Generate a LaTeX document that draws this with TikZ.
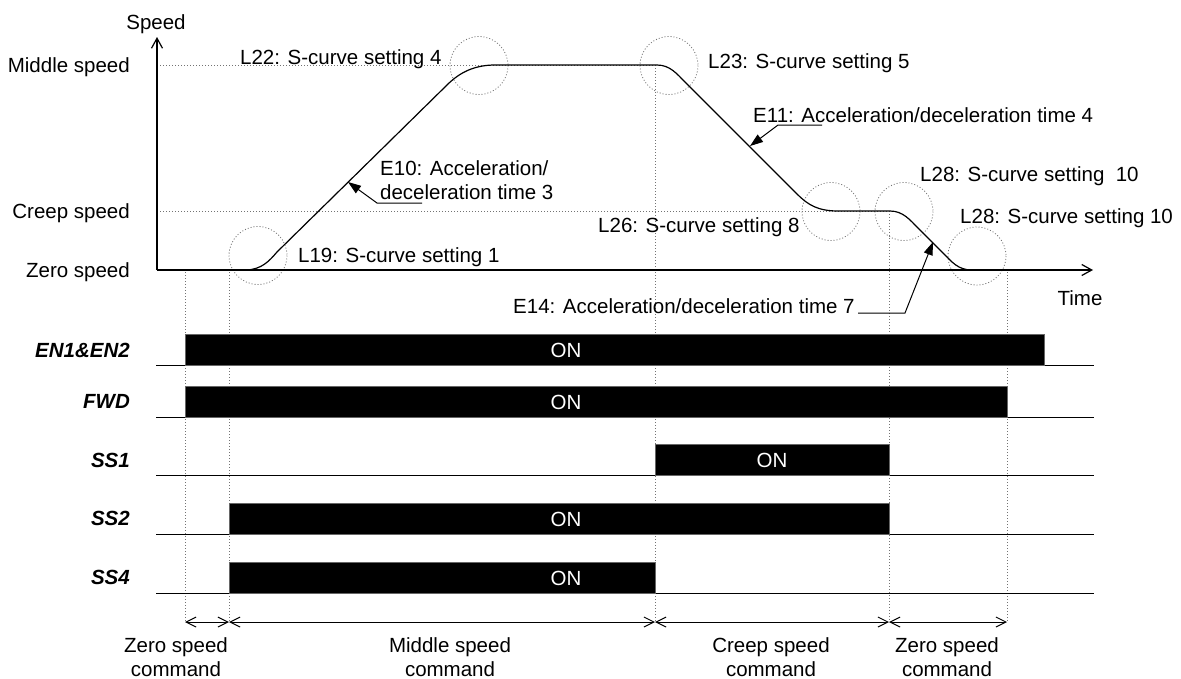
\documentclass[tikz,border=0pt]{standalone}
\usepackage{fontspec}
\setmainfont{Liberation Sans}
\usetikzlibrary{arrows.meta}
\begin{document}
\begin{tikzpicture}[x=1pt,y=-1pt,
  every node/.style={inner sep=0pt, font=\fontsize{20.5}{24}\selectfont},
  lbl/.style={anchor=base east},
  ann/.style={anchor=base west},
  sig/.style={anchor=base east, font=\fontsize{20.5}{24}\selectfont\bfseries\itshape},
  guide/.style={draw=black!55, line width=0.8pt, dash pattern=on 1pt off 2pt},
  ring/.style={draw=black!55, line width=0.8pt, dash pattern=on 1pt off 2pt},
  bar/.style={fill=black, draw=black!60, line width=0.6pt},
  baseln/.style={line width=1pt},
  leader/.style={line width=1pt, -{Triangle[length=13pt,width=9pt]}},
  axis/.style={line width=1.2pt, -{Straight Barb[length=10pt,width=11pt]}},
  dim/.style={line width=1pt, {Straight Barb[length=10pt,width=10pt]}-{Straight Barb[length=10pt,width=10pt]}},
  ontext/.style={text=white, anchor=center}
]
\useasboundingbox (0,0) rectangle (1181,678);

% time marks
\coordinate (t0) at (185,622);
\coordinate (t1) at (229,622);
\coordinate (t2) at (655,622);
\coordinate (t3) at (889,622);
\coordinate (t4) at (1007,622);

% guide lines
\draw[guide] (157,65) -- (655,65);
\draw[guide] (157,211) -- (889,211);
\draw[guide] (185,272) -- (t0);
\draw[guide] (229,272) -- (t1);
\draw[guide] (655,65) -- (t2);
\draw[guide] (889,211) -- (t3);
\draw[guide] (1007,272) -- (t4);

% rings
\draw[ring] (258,255.5) circle (29);
\draw[ring] (479,65.5) circle (29);
\draw[ring] (669,65.5) circle (29);
\draw[ring] (831,211.5) circle (29);
\draw[ring] (904,211.5) circle (29);
\draw[ring] (977,256) circle (29);

% axes
\coordinate (o) at (157,270);
\coordinate (ytip) at (157,37);
\coordinate (xtip) at (1093,270);
\draw[axis] (o) -- (ytip);
\draw[axis] (o) -- (xtip);
\node[anchor=base] (speed) at (156,29) {Speed};
\node[anchor=base] (time) at (1080,305) {Time};
\node[lbl] (mid) at (130,72.5) {Middle speed};
\node[lbl] (creep) at (130,218.5) {Creep speed};
\node[lbl] (zero) at (130,277.5) {Zero speed};

% speed profile
\draw[line width=1.2pt] (157,270) -- (245,270) .. controls (262,270) and (270,260) .. (277,252)
  -- (447,85) .. controls (460,72) and (475,65) .. (495,65)
  -- (657,65) .. controls (670,65) and (677,74) .. (685,82)
  -- (797,194) .. controls (808,205) and (818,211) .. (838,211)
  -- (890,211) .. controls (903,211) and (910,220) .. (918,228)
  -- (943,253) .. controls (952,262) and (958,270) .. (972,270);

% annotations
\node[ann] (l22) at (240,64) {L22: S-curve setting 4};
\node[ann] (l23) at (708,68) {L23: S-curve setting 5};
\node[ann] (e11) at (753,122) {E11: Acceleration/deceleration time 4};
\node[ann] (e10) at (380,175) {\begin{tabular}[t]{@{}l@{}}E10: Acceleration/\\deceleration time 3\end{tabular}};
\node[ann] (l19) at (298,262) {L19: S-curve setting 1};
\node[ann] (l26) at (598,232) {L26: S-curve setting 8};
\node[ann] (l28a) at (920,181) {L28: S-curve setting \ 10};
\node[ann] (l28b) at (960,223) {L28: S-curve setting 10};
\node[ann] (e14) at (513,313) {E14: Acceleration/deceleration time 7};

% leaders
\coordinate (e10a) at (422,203); \coordinate (e10b) at (377,203); \coordinate (e10t) at (348,182);
\draw[leader] (e10a) -- (e10b) -- (e10t);
\coordinate (e11a) at (822,125); \coordinate (e11b) at (778,125); \coordinate (e11t) at (750,146);
\draw[leader] (e11a) -- (e11b) -- (e11t);
\coordinate (e14a) at (858,313); \coordinate (e14b) at (905,313); \coordinate (e14t) at (933,242);
\draw[leader] (e14a) -- (e14b) -- (e14t);

% signals
\node[sig] (sen) at (130,357) {EN1\&EN2};
\node[sig] (sfwd) at (130,408) {FWD};
\node[sig] (sss1) at (130,467) {SS1};
\node[sig] (sss2) at (130,525) {SS2};
\node[sig] (sss4) at (130,584) {SS4};

\draw[baseln] (156,365) -- (1094,365);
\draw[baseln] (156,417) -- (1094,417);
\draw[baseln] (156,475) -- (1094,475);
\draw[baseln] (156,534) -- (1094,534);
\draw[baseln] (156,593) -- (1094,593);

\draw[bar] (185,334) rectangle (1044,365);
\draw[bar] (185,386) rectangle (1007,417);
\draw[bar] (655,444) rectangle (889,475);
\draw[bar] (229,503) rectangle (889,534);
\draw[bar] (229,562) rectangle (655,593);

\node[ontext] (on1) at (566,350) {ON};
\node[ontext] (on2) at (566,402) {ON};
\node[ontext] (on3) at (772,460) {ON};
\node[ontext] (on4) at (566,519) {ON};
\node[ontext] (on5) at (566,578) {ON};

% command periods
\draw[dim] (t0) -- (t1);
\draw[dim] (t1) -- (t2);
\draw[dim] (t2) -- (t3);
\draw[dim] (t3) -- (t4);

\node[anchor=base] (c0) at (176,652) {\begin{tabular}[t]{@{}c@{}}Zero speed\\command\end{tabular}};
\node[anchor=base] (c1) at (450,652) {\begin{tabular}[t]{@{}c@{}}Middle speed\\command\end{tabular}};
\node[anchor=base] (c2) at (771,652) {\begin{tabular}[t]{@{}c@{}}Creep speed\\command\end{tabular}};
\node[anchor=base] (c3) at (947,652) {\begin{tabular}[t]{@{}c@{}}Zero speed\\command\end{tabular}};
\end{tikzpicture}
\end{document}
